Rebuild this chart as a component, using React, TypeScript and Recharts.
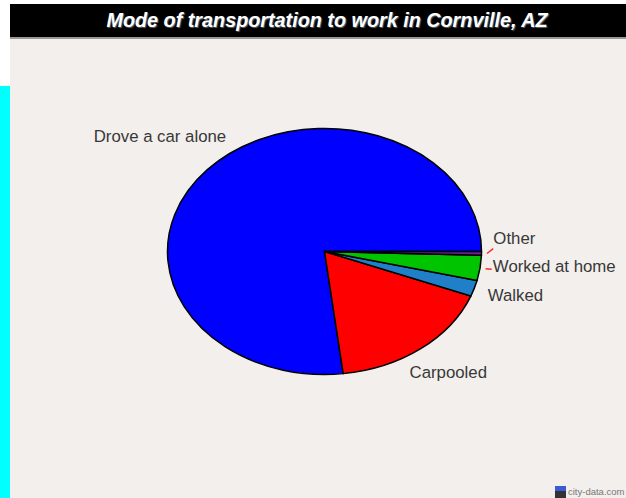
import React from 'react';
import { PieChart, Pie, Cell } from 'recharts';

// share of workers (%)
const categories = ['Drove a car alone', 'Carpooled', 'Walked', 'Worked at home', 'Other'];
const shares = [76.9, 17.2, 2.1, 3.3, 0.5];
const sliceColors = ['#0000ff', '#ff0000', '#1f7fc8', '#00c400', '#6a1f8c'];

const data = categories.map((name, i) => ({ name, value: shares[i] }));

const W = 616;
const H = 459;
const SQUASH = 123 / 157; // the source pie is stretched into an ellipse
const RAD = Math.PI / 180;

// label placement tweaks relative to the mid-angle point
const labelNudge: Record<string, { dx: number; dy: number; anchor: 'start' | 'end'; tick?: number }> = {
  'Drove a car alone': { dx: 25, dy: -24, anchor: 'end' },
  Carpooled: { dx: -16, dy: 24, anchor: 'start' },
  Walked: { dx: 6, dy: 11, anchor: 'start' },
  'Worked at home': { dx: 5, dy: 3, anchor: 'start', tick: 0 },
  Other: { dx: 4, dy: -9.5, anchor: 'start', tick: -5 },
};

function EllipseSlice(props: any) {
  const { cx, cy, outerRadius, startAngle, endAngle, fill } = props;
  const rx = outerRadius;
  const ry = outerRadius * SQUASH;
  const pt = (a: number) => [cx + rx * Math.cos(a * RAD), cy - ry * Math.sin(a * RAD)];
  const [x1, y1] = pt(startAngle);
  const [x2, y2] = pt(endAngle);
  const large = Math.abs(endAngle - startAngle) > 180 ? 1 : 0;
  const sweep = endAngle > startAngle ? 0 : 1;
  return (
    <path
      d={`M${cx},${cy}L${x1},${y1}A${rx},${ry} 0 ${large} ${sweep} ${x2},${y2}Z`}
      fill={fill}
      stroke="#000"
      strokeWidth={1.5}
      strokeLinejoin="round"
    />
  );
}

function renderLabel(props: any) {
  const { cx, cy, midAngle, outerRadius, name } = props;
  const nudge = labelNudge[name];
  const at = (f: number) => [
    cx + outerRadius * f * Math.cos(midAngle * RAD),
    cy - outerRadius * SQUASH * f * Math.sin(midAngle * RAD),
  ];
  const [bx, by] = at(1.05);
  const [t1x, t1y] = at(1.035);
  const [t2x, t2y] = at(1.075);
  return (
    <g>
      {nudge.tick !== undefined && (
        <line x1={t1x} y1={t1y} x2={t2x} y2={t2y + nudge.tick} stroke="#ff2a2a" strokeWidth={1.5} />
      )}
      <text
        x={bx + nudge.dx}
        y={by + nudge.dy}
        textAnchor={nudge.anchor}
        fill="#383838"
        fontSize={16.8}
        fontFamily="'Liberation Sans', Arial, sans-serif"
      >
        {name}
      </text>
    </g>
  );
}

export default function App() {
  return (
    <div
      style={{
        position: 'absolute',
        left: 0,
        top: 0,
        width: 626,
        height: 498,
        overflow: 'hidden',
        background: '#ffffff',
        fontFamily: "'Liberation Sans', Arial, sans-serif",
      }}
    >
      <div style={{ position: 'absolute', left: 0, top: 86, width: 10, height: 412, background: '#00ffff' }} />
      <div
        style={{
          position: 'absolute',
          left: 10,
          top: 4,
          width: 616,
          height: 35,
          background: '#000',
          borderBottom: '2px solid #9a9896',
          boxSizing: 'border-box',
        }}
      >
        <div
          style={{
            position: 'absolute',
            left: 18,
            right: 0,
            top: 5,
            textAlign: 'center',
            color: '#fff',
            fontWeight: 'bold',
            fontStyle: 'italic',
            fontSize: 19.8,
            lineHeight: '23px',
            textShadow: '1px 1px 1px #666',
          }}
        >
          Mode of transportation to work in Cornville, AZ
        </div>
      </div>
      <div style={{ position: 'absolute', left: 10, top: 39, width: W, height: H, background: '#f3efec' }}>
        <PieChart width={W} height={H} margin={{ top: 0, right: 0, bottom: 0, left: 0 }}>
          <Pie
            data={data}
            dataKey="value"
            nameKey="name"
            cx={314.5}
            cy={212.5}
            outerRadius={157}
            startAngle={0}
            endAngle={360}
            shape={EllipseSlice}
            label={renderLabel}
            labelLine={false}
            isAnimationActive={false}
          >
            {data.map((d, i) => (
              <Cell key={d.name} fill={sliceColors[i]} />
            ))}
          </Pie>
        </PieChart>
      </div>
      <div style={{ position: 'absolute', left: 555, top: 486, width: 11, height: 12, background: 'linear-gradient(#3b5bd6 45%, #333 45%)' }} />
      <div style={{ position: 'absolute', left: 568, top: 486, fontSize: 9.5, color: '#777', whiteSpace: 'nowrap' }}>
        city-data.com
      </div>
    </div>
  );
}
